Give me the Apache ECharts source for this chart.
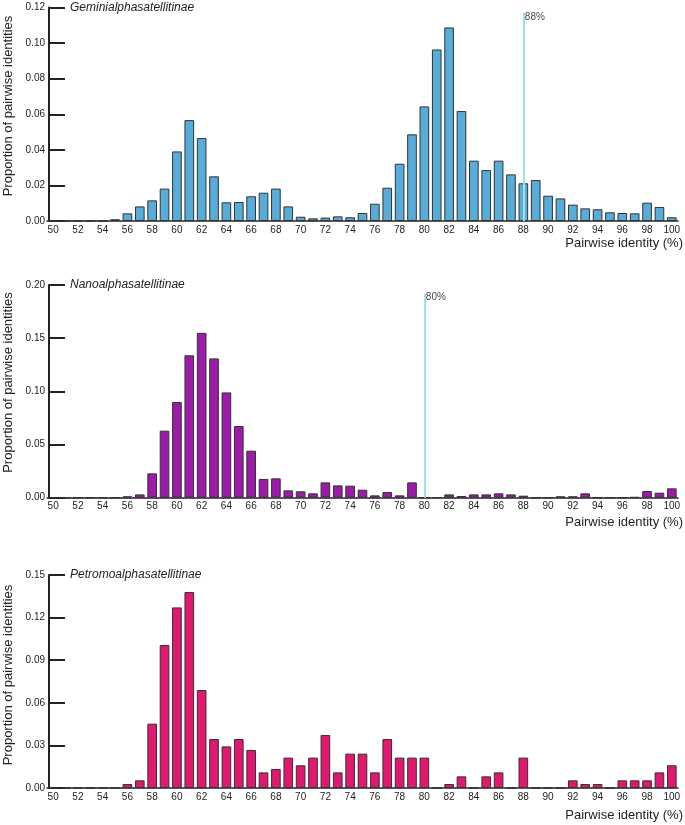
<!DOCTYPE html>
<html>
<head>
<meta charset="utf-8">
<script src="https://cdn.jsdelivr.net/npm/echarts@6/dist/echarts.min.js"></script>
<style>html,body{margin:0;padding:0;background:#fff}#c{width:685px;height:825px}</style>
</head>
<body>
<div id="c"></div>
<script>
var categories = [];
for (var v = 50; v <= 100; v++) categories.push(String(v));

var titles = ['Geminialphasatellitinae', 'Nanoalphasatellitinae', 'Petromoalphasatellitinae'];

var gemini = [0,0,0,0,0, 0.001,0.0043,0.0082,0.0116,0.0182,0.0391,0.0567,0.0466,0.0251,0.0105,
  0.0107,0.0139,0.0159,0.0182,0.0082,0.0024,0.0015,0.0019,0.0026,0.0021,0.0045,0.0097,0.0187,
  0.0322,0.0487,0.0644,0.0964,0.1088,0.0618,0.0339,0.0286,0.0339,0.0262,0.0212,0.0230,0.0142,
  0.0127,0.0092,0.0071,0.0066,0.0049,0.0045,0.0043,0.0103,0.0079,0.0021];

var nano = [0,0,0,0,0,0, 0.0013,0.0031,0.0229,0.063,0.090,0.1339,0.155,0.131,0.099,0.0674,
  0.0442,0.0176,0.0182,0.0069,0.006,0.0041,0.0144,0.0116,0.0113,0.0075,0.0022,0.0053,0.0022,
  0.0144,0,0.0003,0.0031,0.0016,0.0031,0.0031,0.0041,0.0031,0.0019,0,0,0.0013,0.0013,0.0041,
  0,0,0,0.0006,0.0063,0.0047,0.0088];

var petro = [0,0,0,0,0,0, 0.0028,0.0054,0.0453,0.1007,0.1272,0.138,0.069,0.0345,0.0293,0.0345,
  0.0268,0.011,0.0134,0.0214,0.016,0.0214,0.0373,0.011,0.0242,0.0242,0.011,0.0345,0.0214,
  0.0214,0.0214,0,0.0028,0.0082,0,0.0082,0.011,0,0.0214,0,0,0,0.0054,0.0028,0.0028,0,
  0.0054,0.0054,0.0054,0.011,0.016];

var seriesValues = [gemini, nano, petro];
var yMax = [0.12, 0.20, 0.15];
var yStep = [0.02, 0.05, 0.03];
var thresholds = ['88', '80', '81'];
var thresholdTops = [0.117, 0.192, 0.1505];
var colors = ['#57acd9', '#9c1ba8', '#e2176f'];

var gridTops = [7.5, 285, 575];
var gridH = [213.5, 212.7, 213];
var nameY = [106, 382.5, 675];
var xNameY = [243, 522, 815];

var grids = [], xAxes = [], yAxes = [], series = [], graphics = [];
for (var i = 0; i < 3; i++) {
  grids.push({left: 47, top: gridTops[i], width: 631, height: gridH[i]});
  xAxes.push({
    type: 'category', gridIndex: i, data: categories,
    axisLine: {lineStyle: {color: '#222', width: 1.5}},
    axisTick: {show: false},
    axisLabel: {interval: 1, color: '#222', fontSize: 10, margin: 4, fontFamily: 'Liberation Sans, Arial'}
  });
  yAxes.push({
    type: 'value', gridIndex: i, min: 0, max: yMax[i], interval: yStep[i],
    offset: -2,
    splitLine: {show: false},
    axisLine: {show: true, lineStyle: {color: '#222', width: 2}},
    axisTick: {show: true, inside: true, length: 16, lineStyle: {color: '#222', width: 2}},
    axisLabel: {color: '#222', fontSize: 10, margin: 4, fontFamily: 'Liberation Sans, Arial',
      formatter: function (val) { return val.toFixed(2); }}
  });
  series.push({
    type: 'bar', xAxisIndex: i, yAxisIndex: i, data: seriesValues[i],
    barWidth: '78%',
    itemStyle: {color: colors[i], borderColor: '#333', borderWidth: 1},
    markLine: {
      silent: true, symbol: 'none', animation: false,
      lineStyle: {color: '#9fe0ee', width: 2, type: 'solid'},
      label: {show: false},
      data: [[{coord: [thresholds[i], 0]}, {coord: [thresholds[i], thresholdTops[i]]}]]
    },
    animation: false
  });
  series.push({
    type: 'scatter', xAxisIndex: i, yAxisIndex: i,
    data: [[thresholds[i], thresholdTops[i]]],
    symbolSize: 1, itemStyle: {color: 'rgba(0,0,0,0)'}, silent: true,
    label: {show: true, position: 'right', distance: 1, offset: [0, 4],
      formatter: thresholds[i] + '%', color: '#111', fontSize: 10, fontFamily: 'Liberation Sans, Arial'},
    animation: false
  });
  graphics.push({
    type: 'text', x: 70, y: gridTops[i],
    style: {text: titles[i], font: 'italic 12px "Liberation Sans", Arial', fill: '#222',
      textAlign: 'left', textVerticalAlign: 'middle'}
  });
  graphics.push({
    type: 'text', x: 8, y: nameY[i], rotation: Math.PI / 2,
    style: {text: 'Proportion of pairwise identities', font: '13px "Liberation Sans", Arial', fill: '#222',
      textAlign: 'center', textVerticalAlign: 'middle'}
  });
  graphics.push({
    type: 'text', x: 683, y: xNameY[i],
    style: {text: 'Pairwise identity (%)', font: '13px "Liberation Sans", Arial', fill: '#222',
      textAlign: 'right', textVerticalAlign: 'middle'}
  });
}

var chart = echarts.init(document.getElementById('c'), null, {renderer: 'canvas'});
chart.setOption({
  animation: false,
  grid: grids, xAxis: xAxes, yAxis: yAxes, series: series, graphic: graphics
});
</script>
</body>
</html>
